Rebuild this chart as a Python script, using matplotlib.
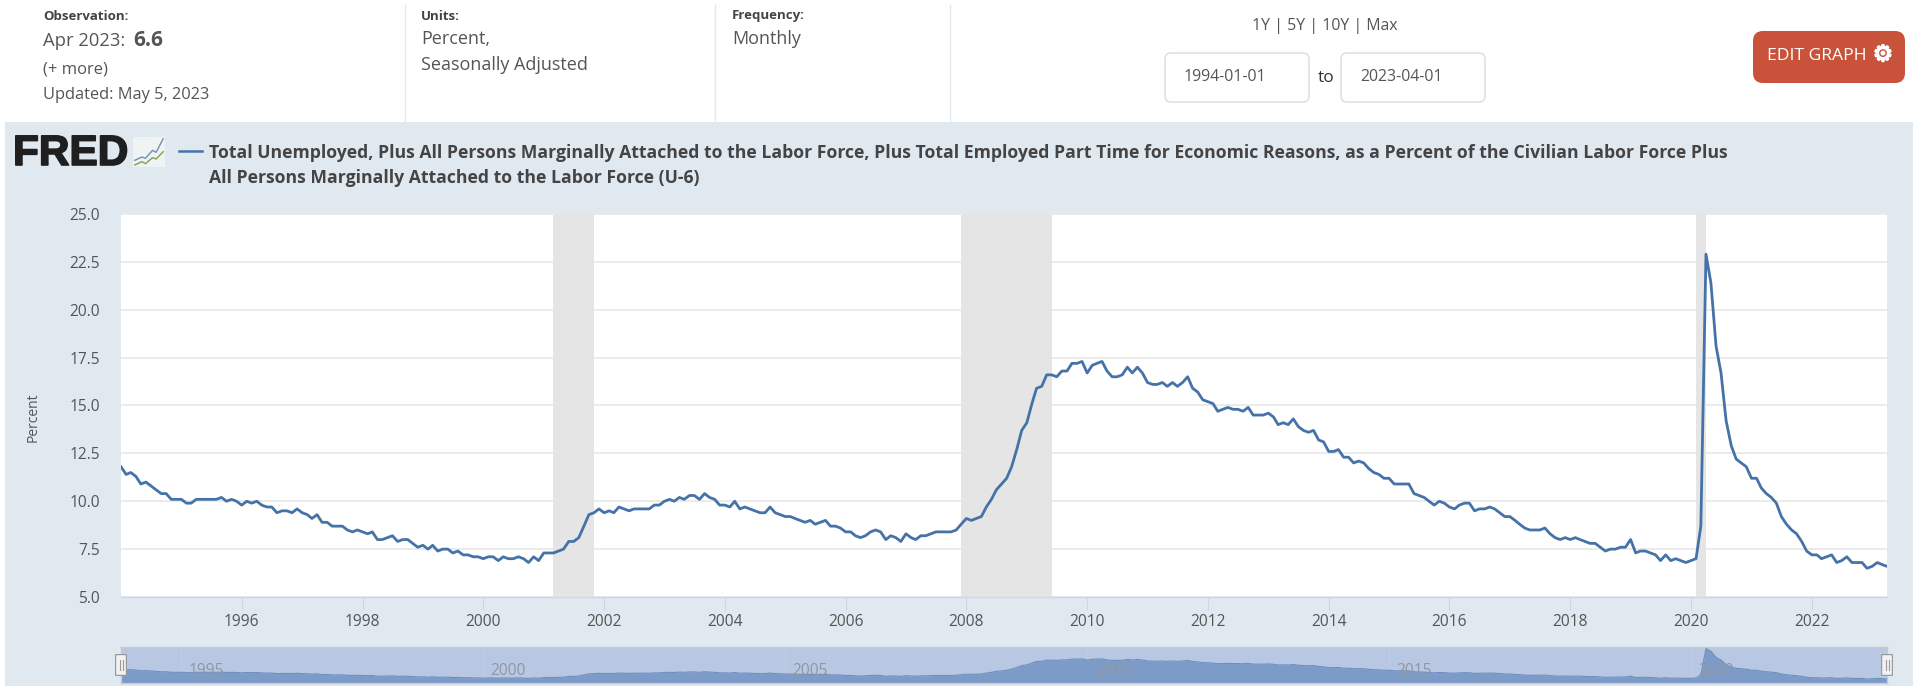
import numpy as np
import pandas as pd
import matplotlib
matplotlib.use("Agg")
import matplotlib.pyplot as plt
import matplotlib.dates as mdates
import matplotlib.patheffects as pe
from matplotlib.patches import FancyBboxPatch, Rectangle

W, H = 1913, 686

u6_by_year = {
    1994: [11.8, 11.4, 11.5, 11.3, 10.9, 11.0, 10.8, 10.6, 10.4, 10.4, 10.1, 10.1],
    1995: [10.1, 9.9, 9.9, 10.1, 10.1, 10.1, 10.1, 10.1, 10.2, 10.0, 10.1, 10.0],
    1996: [9.8, 10.0, 9.9, 10.0, 9.8, 9.7, 9.7, 9.4, 9.5, 9.5, 9.4, 9.6],
    1997: [9.4, 9.3, 9.1, 9.3, 8.9, 8.9, 8.7, 8.7, 8.7, 8.5, 8.4, 8.5],
    1998: [8.4, 8.3, 8.4, 8.0, 8.0, 8.1, 8.2, 7.9, 8.0, 8.0, 7.8, 7.6],
    1999: [7.7, 7.5, 7.7, 7.4, 7.5, 7.5, 7.3, 7.4, 7.2, 7.2, 7.1, 7.1],
    2000: [7.0, 7.1, 7.1, 6.9, 7.1, 7.0, 7.0, 7.1, 7.0, 6.8, 7.1, 6.9],
    2001: [7.3, 7.3, 7.3, 7.4, 7.5, 7.9, 7.9, 8.1, 8.7, 9.3, 9.4, 9.6],
    2002: [9.4, 9.5, 9.4, 9.7, 9.6, 9.5, 9.6, 9.6, 9.6, 9.6, 9.8, 9.8],
    2003: [10.0, 10.1, 10.0, 10.2, 10.1, 10.3, 10.3, 10.1, 10.4, 10.2, 10.1, 9.8],
    2004: [9.8, 9.7, 10.0, 9.6, 9.7, 9.6, 9.5, 9.4, 9.4, 9.7, 9.4, 9.3],
    2005: [9.2, 9.2, 9.1, 9.0, 8.9, 9.0, 8.8, 8.9, 9.0, 8.7, 8.7, 8.6],
    2006: [8.4, 8.4, 8.2, 8.1, 8.2, 8.4, 8.5, 8.4, 8.0, 8.2, 8.1, 7.9],
    2007: [8.3, 8.1, 8.0, 8.2, 8.2, 8.3, 8.4, 8.4, 8.4, 8.4, 8.5, 8.8],
    2008: [9.1, 9.0, 9.1, 9.2, 9.7, 10.1, 10.6, 10.9, 11.2, 11.8, 12.7, 13.7],
    2009: [14.1, 15.1, 15.9, 16.0, 16.6, 16.6, 16.5, 16.8, 16.8, 17.2, 17.2, 17.3],
    2010: [16.7, 17.1, 17.2, 17.3, 16.8, 16.5, 16.5, 16.6, 17.0, 16.7, 17.0, 16.7],
    2011: [16.2, 16.1, 16.1, 16.2, 16.0, 16.2, 16.0, 16.2, 16.5, 15.9, 15.7, 15.3],
    2012: [15.2, 15.1, 14.7, 14.8, 14.9, 14.8, 14.8, 14.7, 14.9, 14.5, 14.5, 14.5],
    2013: [14.6, 14.4, 14.0, 14.1, 14.0, 14.3, 13.9, 13.7, 13.6, 13.7, 13.2, 13.1],
    2014: [12.6, 12.6, 12.7, 12.3, 12.3, 12.0, 12.1, 12.0, 11.7, 11.5, 11.4, 11.2],
    2015: [11.2, 10.9, 10.9, 10.9, 10.9, 10.4, 10.3, 10.2, 10.0, 9.8, 10.0, 9.9],
    2016: [9.7, 9.6, 9.8, 9.9, 9.9, 9.5, 9.6, 9.6, 9.7, 9.6, 9.4, 9.2],
    2017: [9.2, 9.0, 8.8, 8.6, 8.5, 8.5, 8.5, 8.6, 8.3, 8.1, 8.0, 8.1],
    2018: [8.0, 8.1, 8.0, 7.9, 7.8, 7.8, 7.6, 7.4, 7.5, 7.5, 7.6, 7.6],
    2019: [8.0, 7.3, 7.4, 7.4, 7.3, 7.2, 6.9, 7.2, 6.9, 7.0, 6.9, 6.8],
    2020: [6.9, 7.0, 8.7, 22.9, 21.4, 18.1, 16.7, 14.2, 12.9, 12.2, 12.0, 11.8],
    2021: [11.2, 11.2, 10.7, 10.4, 10.2, 9.9, 9.2, 8.8, 8.5, 8.3, 7.9, 7.4],
    2022: [7.2, 7.2, 7.0, 7.1, 7.2, 6.8, 6.9, 7.1, 6.8, 6.8, 6.8, 6.5],
    2023: [6.6, 6.8, 6.7, 6.6],
}
recessions = [("2001-03-01", "2001-11-01"), ("2007-12-01", "2009-06-01"), ("2020-02-01", "2020-04-01")]
y_ticks = [5.0, 7.5, 10.0, 12.5, 15.0, 17.5, 20.0, 22.5, 25.0]
x_tick_years = list(range(1996, 2023, 2))
nav_years = [1995, 2000, 2005, 2010, 2015, 2020]

u6 = np.concatenate([u6_by_year[y] for y in u6_by_year])
dates = pd.date_range("1994-01-01", periods=len(u6), freq="MS")

BLUE = "#4572a7"
PANEL = "#e1e9f0"
TXT = "#555555"
plt.rcParams["font.family"] = ["Open Sans", "DejaVu Sans"]


def ax_px(fig, l, t, r, b, **kw):
    return fig.add_axes([l / W, 1 - b / H, (r - l) / W, (b - t) / H], **kw)


fig = plt.figure(figsize=(W / 100, H / 100), dpi=100, facecolor="white")

# page furniture, drawn in pixel coordinates
bg = fig.add_axes([0, 0, 1, 1])
bg.set_xlim(0, W)
bg.set_ylim(H, 0)
bg.axis("off")
bg.add_patch(Rectangle((5, 122), W - 5, H - 122, color=PANEL, lw=0))
for x in [405, 715, 950]:
    bg.plot([x, x], [5, 122], color=PANEL, lw=1)


def txt(x, y, s, size=10, weight="normal", color=TXT, ha="left", **kw):
    return bg.text(x, y, s, fontsize=size, fontweight=weight, color=color, ha=ha, va="center", **kw)


txt(43, 16, "Observation:", 9.5, "bold", "#444444")
txt(43, 41, "Apr 2023:", 13.2)
txt(133, 41, "6.6", 15, "bold")
txt(43, 69, "(+ more)", 12)
txt(43, 95, "Updated: May 5, 2023", 11.8)
txt(421, 16, "Units:", 9.5, "bold", "#444444")
txt(421, 39, "Percent,", 13)
txt(421, 65, "Seasonally Adjusted", 13)
txt(732, 16, "Frequency:", 9.5, "bold", "#444444")
txt(732, 39, "Monthly", 13)
txt(1325, 26, "1Y | 5Y | 10Y | Max", 11.4, ha="center")
for l, r, s in [(1165, 1309, "1994-01-01"), (1341, 1485, "2023-04-01")]:
    bg.add_patch(FancyBboxPatch((l + 6, 59), r - l - 12, 37, boxstyle="round,pad=6", fc="white", ec="#d5dde6", lw=1))
    txt(l + 19, 77, s, 11.4)
txt(1326, 78, "to", 12.5, color="#333333", ha="center")
bg.add_patch(FancyBboxPatch((1763, 41), 132, 32, boxstyle="round,pad=10", fc="#c8523a", ec="none"))
txt(1767, 56, "EDIT GRAPH", 12.6, color="white")
gear = txt(1873, 55, "\u2699", 16, color="white", family="DejaVu Sans")
gear.set_path_effects([pe.withStroke(linewidth=1.2, foreground="white")])

# FRED mark
fred = bg.text(13, 154, "FRED", fontsize=30.5, fontweight="bold", color="#1f1f1f", family="Liberation Sans",
               va="center", ha="left")
fred.set_path_effects([pe.withStroke(linewidth=1.2, foreground="#1f1f1f")])
logo = ax_px(fig, 133, 137, 165, 167)
logo.set_facecolor("#f0f3f4")
logo.set_xticks([])
logo.set_yticks([])
for s in logo.spines.values():
    s.set_visible(False)
logo.plot([0, 2, 3, 5, 6, 8], [2, 3, 2.6, 5, 4.4, 8.5], color="#6f8fb5", lw=1)
logo.plot([0, 2, 3, 5, 6, 8], [0.6, 1.6, 1, 2.8, 2.4, 4.6], color="#7f9f50", lw=1)
logo.set_xlim(-0.5, 8.5)
logo.set_ylim(0, 9)

bg.plot([179, 202], [151, 151], color=BLUE, lw=1.8)
txt(209, 153, "Total Unemployed, Plus All Persons Marginally Attached to the Labor Force, Plus Total Employed "
    "Part Time for Economic Reasons, as a Percent of the Civilian Labor Force Plus", 12.7, "bold", "#444444")
txt(209, 178, "All Persons Marginally Attached to the Labor Force (U-6)", 12.7, "bold", "#444444")

# main chart
ax = ax_px(fig, 121, 214, 1887, 597)
ax.set_facecolor("white")
for a, b in recessions:
    ax.axvspan(pd.Timestamp(a), pd.Timestamp(b), color="#e5e5e5", lw=0, zorder=2)
ax.plot(dates, u6, color=BLUE, lw=2.0, zorder=3, solid_joinstyle="round")
ax.set_xlim(pd.Timestamp("1994-01-01"), pd.Timestamp("2023-04-01"))
ax.set_ylim(5, 25)
ax.set_yticks(y_ticks)
ax.set_yticklabels([f"{v:.1f}" for v in y_ticks])
ax.set_xticks([pd.Timestamp(f"{y}-01-01") for y in x_tick_years])
ax.xaxis.set_major_formatter(mdates.DateFormatter("%Y"))
ax.grid(axis="y", color="#e6e6e6", lw=1.1, zorder=1)
ax.set_axisbelow(True)
for name, s in ax.spines.items():
    s.set_visible(name == "bottom")
ax.spines["bottom"].set_color("#ccd6eb")
ax.spines["bottom"].set_linewidth(1)
ax.tick_params(axis="y", length=0, pad=15, labelsize=11.2, labelcolor=TXT)
ax.tick_params(axis="x", length=9, width=0.8, color="#ccd6eb", pad=3, labelsize=11.2, labelcolor=TXT)
ax.set_ylabel("Percent", fontsize=10, color=TXT)
ax.yaxis.set_label_coords((41 - 121) / (1887 - 121), (597 - 417) / (597 - 214))

# navigator
nav = ax_px(fig, 121, 647, 1887, 683)
nav.set_facecolor("#b9c8e2")
nav.fill_between(dates, u6, 0, color="#7d9bc9", lw=0, zorder=2)
nav.plot(dates, u6, color="#6d8fc0", lw=0.8, zorder=3)
nav.set_xlim(pd.Timestamp("1994-01-01"), pd.Timestamp("2023-04-01"))
nav.set_ylim(4.35, 23.7)
nav.set_yticks([])
nav.set_xticks([pd.Timestamp(f"{y}-01-01") for y in nav_years])
nav.set_xticklabels([])
nav.tick_params(axis="x", length=0)
nav.grid(axis="x", color="#bfcce4", lw=0.8, zorder=1)
nav.set_axisbelow(True)
for s in nav.spines.values():
    s.set_color("#c4c8cf")
    s.set_linewidth(1)
for y in nav_years:
    nav.annotate(str(y), (pd.Timestamp(f"{y}-01-01"), 0), xycoords=("data", "axes fraction"), xytext=(25, 4),
                 textcoords="offset pixels", ha="center", va="bottom", fontsize=11.2, color="#8f96a3", zorder=5)

for x in [121, 1887]:
    bg_h = fig.add_axes([(x - 6) / W, 1 - 676 / H, 12 / W, 22 / H])
    bg_h.axis("off")
    bg_h.set_xlim(0, 12)
    bg_h.set_ylim(0, 22)
    bg_h.add_patch(FancyBboxPatch((1.5, 1.5), 9, 19, boxstyle="round,pad=1", fc="#f2f2f2", ec="#999999", lw=1))
    bg_h.plot([4.5, 4.5], [6, 16], color="#999999", lw=0.8)
    bg_h.plot([7.5, 7.5], [6, 16], color="#999999", lw=0.8)

fig.savefig("out.png", dpi=100, facecolor="white")
